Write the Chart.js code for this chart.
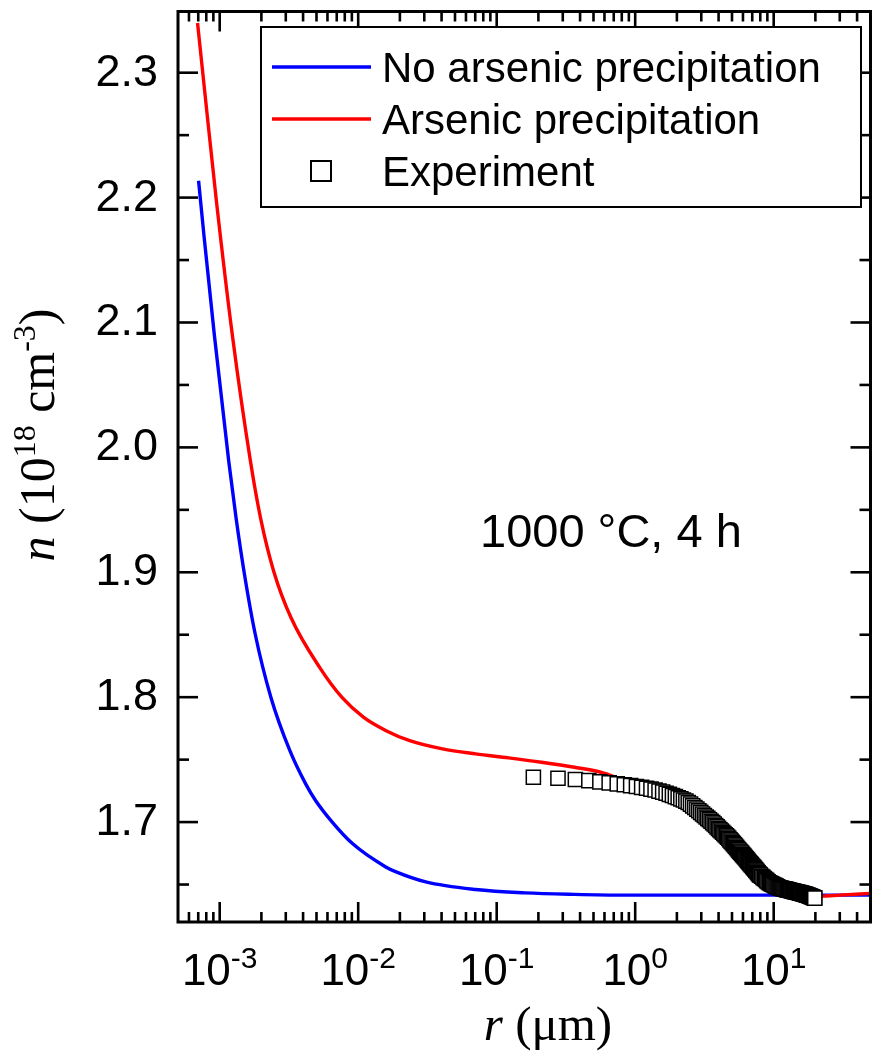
<!DOCTYPE html>
<html>
<head>
<meta charset="utf-8">
<script src="https://cdn.jsdelivr.net/npm/chart.js@4/dist/chart.umd.min.js"></script>
<style>
html,body{margin:0;padding:0;background:#fff;}
#wrap{width:882px;height:1054px;position:relative;}
</style>
</head>
<body>
<div id="wrap"><canvas id="c"></canvas></div>
<script>
// ---------------- data ----------------
const seriesNames = ['No arsenic precipitation', 'Arsenic precipitation', 'Experiment'];

const noPrecipR = [7.04e-4, 7.70e-4, 9.15e-4, 1.163e-3, 1.313e-3, 1.497e-3, 1.806e-3, 2.344e-3, 3.212e-3, 4.176e-3, 4.922e-3, 6.494e-3, 9.09e-3, 0.01581, 0.01878, 0.03073, 0.0705, 0.160, 0.364, 0.827, 2, 5, 10, 20, 50];
const noPrecipN = [2.2135, 2.1696, 2.0900, 1.9887, 1.9434, 1.9009, 1.8504, 1.7998, 1.7572, 1.7306, 1.7173, 1.7000, 1.6828, 1.6641, 1.6601, 1.6521, 1.6460, 1.6433, 1.6421, 1.6415, 1.6415, 1.6415, 1.6415, 1.6415, 1.6415];

const precipR = [6.92e-4, 7.95e-4, 9.49e-4, 1.234e-3, 1.669e-3, 1.973e-3, 2.454e-3, 3.275e-3, 5.28e-3, 7.64e-3, 0.01096, 0.01589, 0.02356, 0.04062, 0.07039, 0.1218, 0.2107, 0.364, 0.564, 0.8, 1.2, 1.8, 2.9, 4.0, 5.5, 7.5, 10, 15, 22, 30, 50];
const precipN = [2.3398, 2.2760, 2.1962, 2.0900, 1.9887, 1.9434, 1.9009, 1.8636, 1.8237, 1.7998, 1.7838, 1.7732, 1.7652, 1.7586, 1.7546, 1.7514, 1.7479, 1.7439, 1.7399, 1.7340, 1.7265, 1.7200, 1.7035, 1.6900, 1.6740, 1.6590, 1.6485, 1.6432, 1.6407, 1.6415, 1.6429];

const expR = [0.184, 0.277, 0.370, 0.463, 0.556, 0.649, 0.742, 0.835, 0.928, 1.021,
  1.114, 1.207, 1.300, 1.393, 1.486, 1.579, 1.672, 1.765, 1.858, 1.951,
  2.044, 2.137, 2.230, 2.323, 2.416, 2.509, 2.602, 2.695, 2.788, 2.881,
  2.974, 3.067, 3.160, 3.253, 3.346, 3.439, 3.532, 3.625, 3.718, 3.811,
  3.904, 3.997, 4.090, 4.183, 4.276, 4.369, 4.462, 4.555, 4.648, 4.741,
  4.834, 4.927, 5.020, 5.113, 5.206, 5.299, 5.392, 5.485, 5.578, 5.671,
  5.764, 5.857, 5.950, 6.043, 6.136, 6.229, 6.322, 6.415, 6.508, 6.601,
  6.694, 6.787, 6.880, 6.973, 7.066, 7.159, 7.252, 7.345, 7.438, 7.531,
  7.624, 7.717, 7.810, 7.903, 7.996,
  8.182, 8.368, 8.554, 8.740, 8.926, 9.112, 9.298, 9.484, 9.670, 9.856,
  10.042, 10.228, 10.414, 10.600, 10.786, 10.972, 11.158, 11.344, 11.530, 11.716,
  11.902, 12.088, 12.274, 12.460, 12.646, 12.832, 13.018, 13.204, 13.390, 13.576,
  13.762, 13.948, 14.134, 14.320, 14.506, 14.692, 14.878, 15.064, 15.250, 15.436,
  15.622, 15.808, 15.994, 16.180, 16.366, 16.552, 16.738, 16.924, 17.110, 17.296,
  17.482, 17.668, 17.854, 18.040, 18.226, 18.412, 18.598, 18.784, 18.970, 19.156,
  19.342, 19.528, 19.714, 19.807];
const expN = [1.7359, 1.7351, 1.7341, 1.7332, 1.7322, 1.7314, 1.7306, 1.7299, 1.7292, 1.7285,
  1.7278, 1.7271, 1.7264, 1.7257, 1.7248, 1.7240, 1.7231, 1.7222, 1.7213, 1.7204,
  1.7195, 1.7186, 1.7177, 1.7168, 1.7157, 1.7144, 1.7130, 1.7117, 1.7104, 1.7091,
  1.7078, 1.7065, 1.7053, 1.7041, 1.7030, 1.7019, 1.7007, 1.6996, 1.6985, 1.6973,
  1.6962, 1.6950, 1.6939, 1.6929, 1.6919, 1.6909, 1.6899, 1.6889, 1.6879, 1.6869,
  1.6858, 1.6848, 1.6838, 1.6828, 1.6818, 1.6808, 1.6798, 1.6788, 1.6778, 1.6768,
  1.6759, 1.6751, 1.6742, 1.6734, 1.6725, 1.6716, 1.6708, 1.6699, 1.6691, 1.6682,
  1.6674, 1.6666, 1.6659, 1.6652, 1.6644, 1.6637, 1.6630, 1.6622, 1.6615, 1.6608,
  1.6600, 1.6593, 1.6586, 1.6579, 1.6575,
  1.6566, 1.6557, 1.6548, 1.6540, 1.6531, 1.6522, 1.6514, 1.6509, 1.6505, 1.6500,
  1.6496, 1.6491, 1.6487, 1.6482, 1.6478, 1.6474, 1.6472, 1.6470, 1.6468, 1.6466,
  1.6465, 1.6463, 1.6461, 1.6459, 1.6457, 1.6456, 1.6454, 1.6452, 1.6450, 1.6448,
  1.6447, 1.6445, 1.6444, 1.6442, 1.6441, 1.6439, 1.6438, 1.6436, 1.6435, 1.6433,
  1.6432, 1.6430, 1.6429, 1.6427, 1.6426, 1.6424, 1.6423, 1.6421, 1.6419, 1.6417,
  1.6415, 1.6414, 1.6412, 1.6410, 1.6408, 1.6406, 1.6404, 1.6402, 1.6400, 1.6398,
  1.6396, 1.6394, 1.6392, 1.6391];

// axis ranges and ticks
const xRange = [5e-4, 50];
const yRange = [1.62, 2.349];
const xMajor = [1e-3, 1e-2, 1e-1, 1, 10];
const xMajorExp = ['-3', '-2', '-1', '0', '1'];
const xMinor = [6e-4, 7e-4, 8e-4, 9e-4,
  2e-3, 3e-3, 4e-3, 5e-3, 6e-3, 7e-3, 8e-3, 9e-3,
  2e-2, 3e-2, 4e-2, 5e-2, 6e-2, 7e-2, 8e-2, 9e-2,
  0.2, 0.3, 0.4, 0.5, 0.6, 0.7, 0.8, 0.9,
  2, 3, 4, 5, 6, 7, 8, 9,
  20, 30, 40];
const yMajor = [1.7, 1.8, 1.9, 2.0, 2.1, 2.2, 2.3];
const yMajorLabels = ['1.7', '1.8', '1.9', '2.0', '2.1', '2.2', '2.3'];
const yMinor = [1.65, 1.75, 1.85, 1.95, 2.05, 2.15, 2.25];
const annotationText = '1000 \u00B0C, 4 h';

// ---------------- drawing helpers ----------------
const SANS = '"Liberation Sans", Arial, sans-serif';
const SERIF = '"Liberation Serif", "Times New Roman", serif';

function seg(ctx, x1, y1, x2, y2) { ctx.beginPath(); ctx.moveTo(x1, y1); ctx.lineTo(x2, y2); ctx.stroke(); }
function runWidth(ctx, pieces) {
  let w = 0;
  pieces.forEach(p => { ctx.font = p.font; w += ctx.measureText(p.t).width; });
  return w;
}
function drawRun(ctx, pieces, x, y) {
  ctx.textAlign = 'left';
  ctx.textBaseline = 'alphabetic';
  pieces.forEach(p => { ctx.font = p.font; ctx.fillText(p.t, x, y + (p.dy || 0)); x += ctx.measureText(p.t).width; });
}

const framePlugin = {
  id: 'frameTicks',
  afterDraw(chart) {
    const { ctx, chartArea: a, scales } = chart;
    const xs = scales.x, ys = scales.y;
    ctx.save();
    ctx.strokeStyle = '#000';
    ctx.fillStyle = '#000';
    ctx.lineCap = 'butt';
    ctx.lineWidth = 2.6;
    xMajor.forEach(v => { const p = xs.getPixelForValue(v); seg(ctx, p, a.bottom, p, a.bottom - 20); seg(ctx, p, a.top, p, a.top + 20); });
    xMinor.forEach(v => { const p = xs.getPixelForValue(v); seg(ctx, p, a.bottom, p, a.bottom - 10); seg(ctx, p, a.top, p, a.top + 10); });
    yMajor.forEach(v => { const p = ys.getPixelForValue(v); seg(ctx, a.left, p, a.left + 20, p); seg(ctx, a.right, p, a.right - 20, p); });
    yMinor.forEach(v => { const p = ys.getPixelForValue(v); seg(ctx, a.left, p, a.left + 11, p); seg(ctx, a.right, p, a.right - 11, p); });
    ctx.lineWidth = 3;
    ctx.strokeRect(a.left, a.top, a.right - a.left, a.bottom - a.top);

    // y tick labels
    ctx.font = '45px ' + SANS;
    ctx.textAlign = 'right';
    ctx.textBaseline = 'alphabetic';
    yMajor.forEach((v, i) => { const p = ys.getPixelForValue(v); ctx.fillText(yMajorLabels[i], 158, p + 13); });

    // x tick labels: 10 with superscript exponent
    xMajor.forEach((v, i) => {
      const p = xs.getPixelForValue(v);
      const pieces = [{ t: '10', font: '44px ' + SANS }, { t: xMajorExp[i], font: '30px ' + SANS, dy: -17 }];
      const w = runWidth(ctx, pieces);
      drawRun(ctx, pieces, p - w / 2, 985);
    });

    // x axis title
    const xt = [{ t: 'r', font: 'italic 49px ' + SERIF }, { t: ' (\u03BCm)', font: '49px ' + SERIF }];
    drawRun(ctx, xt, 548 - runWidth(ctx, xt) / 2, 1040);

    // y axis title (rotated)
    ctx.save();
    ctx.translate(54, 435);
    ctx.rotate(-Math.PI / 2);
    const yt = [
      { t: 'n', font: 'italic 50px ' + SERIF },
      { t: ' (10', font: '50px ' + SERIF },
      { t: '18', font: '32px ' + SERIF, dy: -19 },
      { t: ' cm', font: '50px ' + SERIF },
      { t: '-3', font: '32px ' + SERIF, dy: -19 },
      { t: ')', font: '50px ' + SERIF }
    ];
    drawRun(ctx, yt, -runWidth(ctx, yt) / 2, 0);
    ctx.restore();

    // annotation
    ctx.font = '47px ' + SANS;
    ctx.textAlign = 'left';
    ctx.fillText(annotationText, 480, 547);

    // legend
    const L = { x: 261, y: 27, w: 600, h: 180 };
    ctx.fillStyle = '#fff';
    ctx.fillRect(L.x, L.y, L.w, L.h);
    ctx.strokeStyle = '#000';
    ctx.lineWidth = 2;
    ctx.strokeRect(L.x, L.y, L.w, L.h);
    const rows = [67, 119, 171];
    const ds = chart.data.datasets;
    ctx.lineWidth = 3.4;
    ctx.strokeStyle = ds[0].borderColor; seg(ctx, 272, rows[0], 371, rows[0]);
    ctx.strokeStyle = ds[1].borderColor; seg(ctx, 272, rows[1], 371, rows[1]);
    ctx.lineWidth = 2;
    ctx.strokeStyle = '#000';
    ctx.fillStyle = '#fff';
    ctx.fillRect(311, rows[2] - 10, 20, 20);
    ctx.strokeRect(311, rows[2] - 10, 20, 20);
    ctx.fillStyle = '#000';
    ctx.font = '42px ' + SANS;
    ctx.textAlign = 'left';
    seriesNames.forEach((s, i) => ctx.fillText(s, 382, rows[i] + 15));
    ctx.restore();
  }
};

const toPts = (xs, ys) => xs.map((v, i) => ({ x: v, y: ys[i] }));

new Chart(document.getElementById('c'), {
  type: 'scatter',
  data: {
    datasets: [
      { label: seriesNames[0], data: toPts(noPrecipR, noPrecipN), showLine: true, borderColor: '#0000ff', borderWidth: 3.4, pointRadius: 0, cubicInterpolationMode: 'monotone', order: 3 },
      { label: seriesNames[1], data: toPts(precipR, precipN), showLine: true, borderColor: '#ff0000', borderWidth: 3.4, pointRadius: 0, cubicInterpolationMode: 'monotone', order: 2 },
      { label: seriesNames[2], data: toPts(expR, expN), showLine: false, pointStyle: 'rect', pointRadius: 10, pointBorderWidth: 1.5, pointBorderColor: '#000', pointBackgroundColor: '#fff', order: 1 }
    ]
  },
  options: {
    responsive: true,
    maintainAspectRatio: false,
    animation: false,
    events: [],
    layout: { padding: { left: 0, right: 2, top: 9, bottom: 0 } },
    plugins: { legend: { display: false }, tooltip: { enabled: false } },
    scales: {
      x: { type: 'logarithmic', min: xRange[0], max: xRange[1], grid: { display: false }, border: { display: false }, ticks: { display: false }, afterFit(s) { s.height = 132; } },
      y: { type: 'linear', min: yRange[0], max: yRange[1], grid: { display: false }, border: { display: false }, ticks: { display: false }, afterFit(s) { s.width = 178; } }
    }
  },
  plugins: [framePlugin]
});
</script>
</body>
</html>
